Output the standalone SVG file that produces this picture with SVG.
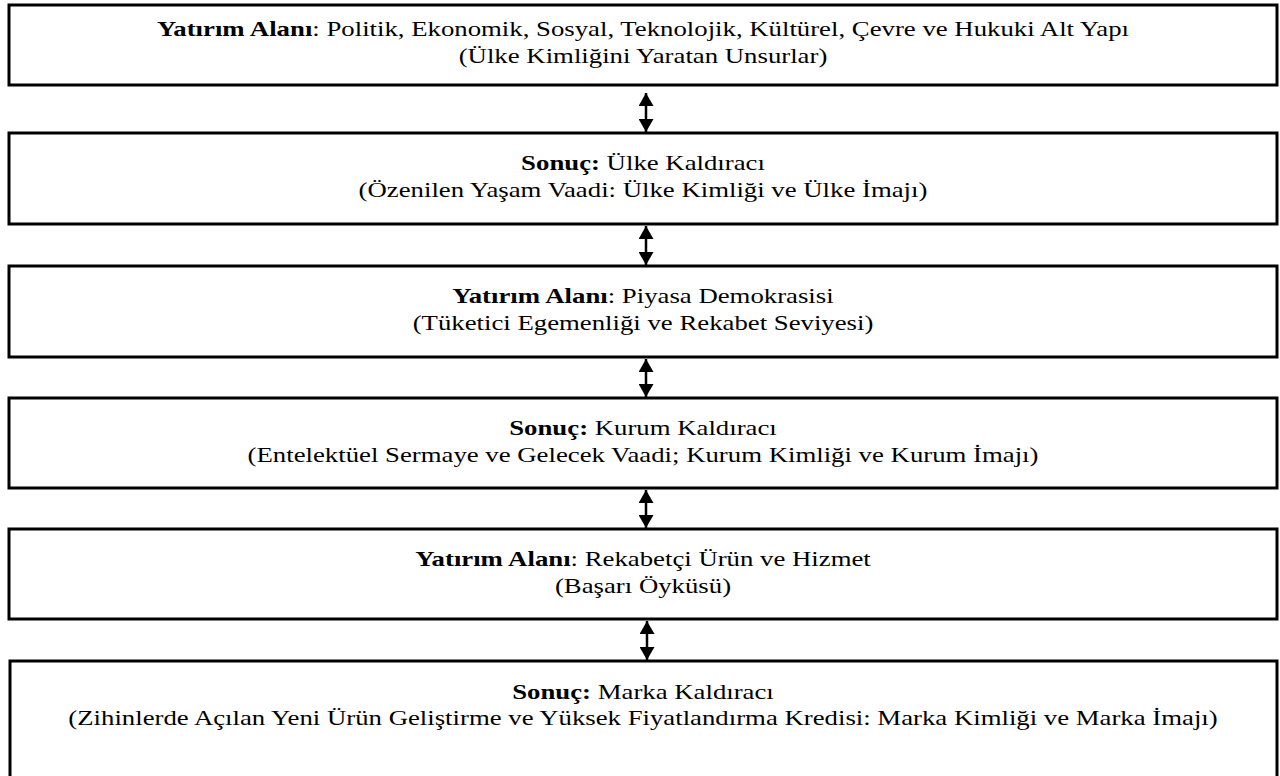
<svg xmlns="http://www.w3.org/2000/svg" width="1280" height="776" viewBox="0 0 1280 776">
<defs>
<style>
.box{fill:#fff;stroke:#000;stroke-width:3}
.t{font-family:"Liberation Serif","Times New Roman",serif;font-size:21px;fill:#000;text-anchor:middle}
.b{font-weight:bold}
.c{stroke:#000;stroke-width:2.5;fill:none}
</style>
<marker id="ah" viewBox="0 0 13 15" refX="13" refY="7.5" markerWidth="13" markerHeight="15" orient="auto-start-reverse" markerUnits="userSpaceOnUse">
<path d="M0,0 L13,7.5 L0,15 z" fill="#000"/>
</marker>
</defs>
<rect width="1280" height="776" fill="#fff"/>
<g id="n1">
<rect class="box" x="9" y="5" width="1268" height="80"/>
<text class="t" transform="matrix(1.275,0,0,1,643,36)"><tspan class="b">Yatırım Alanı</tspan>: Politik, Ekonomik, Sosyal, Teknolojik, Kültürel, Çevre ve Hukuki Alt Yapı</text>
<text class="t" transform="matrix(1.275,0,0,1,643,63)">(Ülke Kimliğini Yaratan Unsurlar)</text>
</g>
<g id="n2">
<rect class="box" x="9" y="133" width="1268" height="91"/>
<text class="t" transform="matrix(1.275,0,0,1,643,170)"><tspan class="b">Sonuç:</tspan> Ülke Kaldıracı</text>
<text class="t" transform="matrix(1.275,0,0,1,643,197)">(Özenilen Yaşam Vaadi: Ülke Kimliği ve Ülke İmajı)</text>
</g>
<g id="n3">
<rect class="box" x="9" y="266" width="1268" height="91"/>
<text class="t" transform="matrix(1.275,0,0,1,643,303)"><tspan class="b">Yatırım Alanı</tspan>: Piyasa Demokrasisi</text>
<text class="t" transform="matrix(1.275,0,0,1,643,330)">(Tüketici Egemenliği ve Rekabet Seviyesi)</text>
</g>
<g id="n4">
<rect class="box" x="9" y="398" width="1268" height="90"/>
<text class="t" transform="matrix(1.275,0,0,1,643,435)"><tspan class="b">Sonuç:</tspan> Kurum Kaldıracı</text>
<text class="t" transform="matrix(1.275,0,0,1,643,462)">(Entelektüel Sermaye ve Gelecek Vaadi; Kurum Kimliği ve Kurum İmajı)</text>
</g>
<g id="n5">
<rect class="box" x="9" y="529" width="1268" height="90"/>
<text class="t" transform="matrix(1.275,0,0,1,643,566)"><tspan class="b">Yatırım Alanı</tspan>: Rekabetçi Ürün ve Hizmet</text>
<text class="t" transform="matrix(1.275,0,0,1,643,593)">(Başarı Öyküsü)</text>
</g>
<g id="n6">
<rect class="box" x="10" y="661" width="1267" height="130"/>
<text class="t" transform="matrix(1.275,0,0,1,643,699)"><tspan class="b">Sonuç:</tspan> Marka Kaldıracı</text>
<text class="t" transform="matrix(1.275,0,0,1,643,725)">(Zihinlerde Açılan Yeni Ürün Geliştirme ve Yüksek Fiyatlandırma Kredisi: Marka Kimliği ve Marka İmajı)</text>
</g>
<g id="connectors">
<line class="c" x1="646" y1="93" x2="646" y2="132" marker-start="url(#ah)" marker-end="url(#ah)"/>
<line class="c" x1="646" y1="226" x2="646" y2="265" marker-start="url(#ah)" marker-end="url(#ah)"/>
<line class="c" x1="646" y1="359" x2="646" y2="397" marker-start="url(#ah)" marker-end="url(#ah)"/>
<line class="c" x1="646" y1="490" x2="646" y2="528" marker-start="url(#ah)" marker-end="url(#ah)"/>
<line class="c" x1="647" y1="621" x2="647" y2="660" marker-start="url(#ah)" marker-end="url(#ah)"/>
</g>
</svg>
